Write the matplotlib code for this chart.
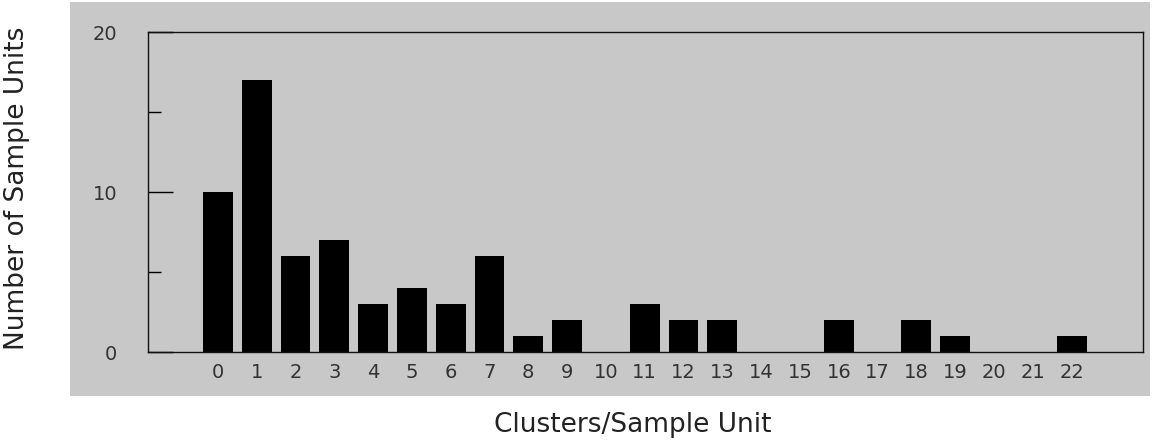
import matplotlib.pyplot as plt
from matplotlib.ticker import MultipleLocator

# clusters per sample unit and how many sample units had that count
clusters = list(range(23))
n_units = [10, 17, 6, 7, 3, 4, 3, 6, 1, 2, 0, 3, 2, 2, 0, 0, 2, 0, 2, 1, 0, 0, 1]
yticks = [0, 10, 20]

gray = '#c8c8c8'
txt = '#333333'

fig = plt.figure(figsize=(11.55, 4.48), dpi=100)
fig.patch.set_facecolor('white')

# gray panel behind the plot (scanned page look)
bg = fig.add_axes([70/1155, 1 - 396/448, 1080/1155, 394/448])
bg.set_facecolor(gray)
bg.set_xticks([])
bg.set_yticks([])
for s in bg.spines.values():
    s.set_visible(False)

ax = fig.add_axes([148/1155, 1 - 352/448, 995/1155, 320/448])
ax.set_facecolor(gray)

ax.bar(clusters, n_units, width=0.77, color='black', linewidth=0)

ax.set_xlim(-1.8, 23.84)
ax.set_ylim(0, 20)
ax.set_xticks(clusters)
ax.set_xticklabels([str(c) for c in clusters])
ax.set_yticks(yticks)
ax.yaxis.set_minor_locator(MultipleLocator(5))

ax.tick_params(axis='x', length=0, pad=8, labelsize=14, labelcolor=txt)
ax.tick_params(axis='y', which='major', direction='in', length=18,
               width=1, pad=22, labelsize=14, labelcolor=txt)
ax.tick_params(axis='y', which='minor', direction='in', length=9, width=1)

for s in ax.spines.values():
    s.set_linewidth(1)
    s.set_color('#111111')

fig.text(17/1155, 1 - 188/448, 'Number of Sample Units', rotation=90,
         ha='center', va='center', fontsize=19, color='#222222')
fig.text(633/1155, 1 - 425/448, 'Clusters/Sample Unit',
         ha='center', va='center', fontsize=19, color='#222222')

fig.savefig('out.png', dpi=100)
